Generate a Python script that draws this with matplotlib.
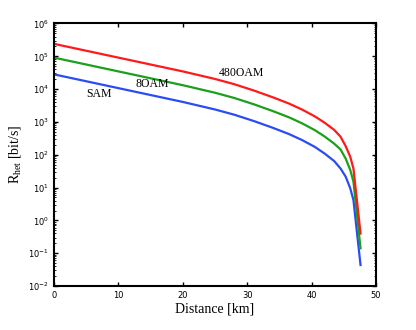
import numpy as np
import matplotlib
matplotlib.use('Agg')
import matplotlib.pyplot as plt

plt.rcParams['mathtext.fontset'] = 'custom'
plt.rcParams['mathtext.rm'] = 'Liberation Serif'
plt.rcParams['mathtext.it'] = 'Liberation Serif:italic'

# distance [km] and rate values (log10 of bit/s)
dist = [0, 5, 10, 15, 20, 25, 28, 31, 34, 36.5, 38.5, 40.5, 42, 43.5, 44.5, 45.3, 46, 46.5, 47.6]
r_480oam = [5.38, 5.17, 4.96, 4.75, 4.54, 4.31, 4.15, 3.96, 3.75, 3.56, 3.38, 3.17, 2.98, 2.76,
            2.55, 2.26, 1.94, 1.58, -0.40]
r_8oam = [4.96, 4.75, 4.54, 4.33, 4.12, 3.89, 3.73, 3.54, 3.33, 3.14, 2.96, 2.75, 2.56, 2.34,
          2.16, 1.88, 1.54, 1.18, -0.85]
r_sam = [4.45, 4.24, 4.03, 3.82, 3.61, 3.38, 3.22, 3.03, 2.82, 2.63, 2.45, 2.24, 2.04, 1.81,
         1.58, 1.33, 0.98, 0.62, -1.36]

series = [(r_sam, 'SAM', '#2a4cf5', 7.0, 3.84),
          (r_8oam, '8OAM', '#1aa01a', 15.2, 4.16),
          (r_480oam, '480OAM', '#ff1a1a', 29.1, 4.49)]

fig = plt.figure(figsize=(4.16, 3.30), dpi=100)
ax = fig.add_axes([0.1298, 0.1333, 0.7740, 0.7955])

for vals, name, col, lx, ly in series:
    ax.plot(dist, 10 ** np.array(vals), color=col, lw=1.6)
    ax.text(lx, 10 ** ly, name, ha='center', va='center',
            family='Liberation Serif', fontsize=8.5)

ax.set_yscale('log')
ax.set_xlim(0, 50)
ax.set_ylim(1e-2, 1e6)
ax.set_xticks([0, 10, 20, 30, 40, 50])
ax.set_yticks([10.0 ** k for k in range(-2, 7)])
ax.tick_params(which='both', direction='in', top=True, right=True, labelsize=6)
ax.tick_params(which='major', length=3, width=1)
ax.tick_params(which='minor', length=1.5, width=0.6)
for sp in ax.spines.values():
    sp.set_linewidth(1.5)

ax.set_xlabel('Distance [km]', family='Liberation Serif', fontsize=10, labelpad=2)
ax.set_ylabel(r'R$_{\mathrm{het}}$ [bit/s]', family='Liberation Serif', fontsize=10, labelpad=4)

fig.savefig('out.png', dpi=100)
